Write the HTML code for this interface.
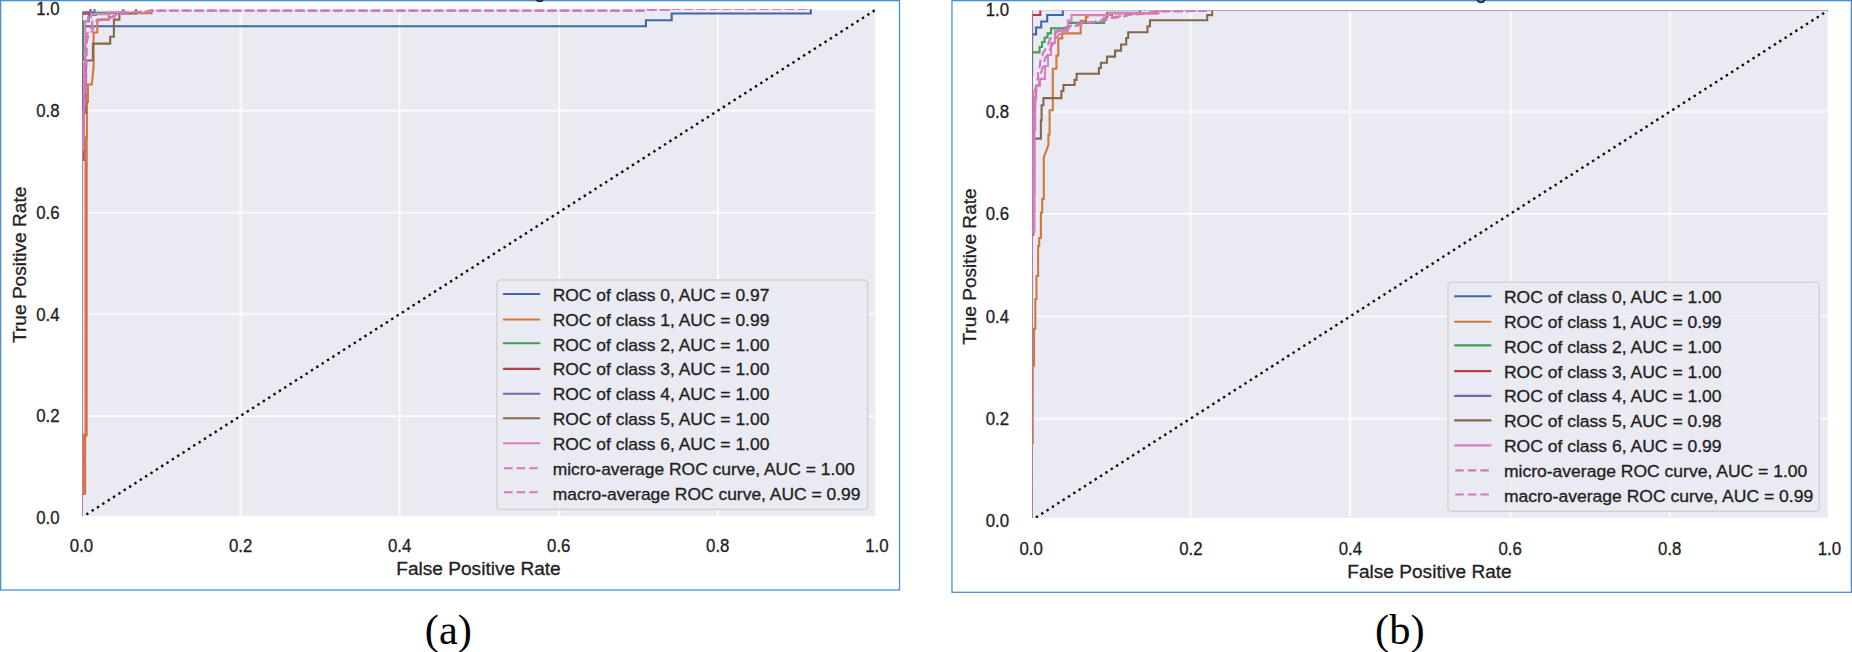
<!DOCTYPE html>
<html><head><meta charset="utf-8"><title>ROC curves</title>
<style>
html,body{margin:0;padding:0;background:#fff;}
body{width:1852px;height:652px;overflow:hidden;}
svg{display:block;}
text{font-family:"Liberation Sans",Arial,Helvetica,sans-serif;fill:#1f1f1f;stroke:#1f1f1f;stroke-width:0.32px;}
.t{font-size:17.5px;}
.l{font-size:19.1px;}
.g{font-size:17.2px;}
.c{font-family:"Liberation Serif","Times New Roman",Times,serif;font-size:41.4px;fill:#000;stroke:none;}
</style></head><body>
<svg width="1852" height="652" viewBox="0 0 1852 652">
<rect width="1852" height="652" fill="#fff"/>
<rect x="0.65" y="0.65" width="898.9000000000001" height="589.35" fill="#fff" stroke="#4b8fd3" stroke-width="1.3"/>
<rect x="82.2" y="9.1" width="793.0999999999999" height="506.9" fill="#eaeaf2"/>
<clipPath id="ca"><rect x="82.2" y="9.1" width="793.0999999999999" height="506.9"/></clipPath>
<g clip-path="url(#ca)" fill="none">
<line x1="240.80" y1="9.1" x2="240.80" y2="516.0" stroke="#fff" stroke-opacity="0.55" stroke-width="3.0"/>
<line x1="399.55" y1="9.1" x2="399.55" y2="516.0" stroke="#fff" stroke-opacity="0.85" stroke-width="1.5"/>
<line x1="399.55" y1="9.1" x2="399.55" y2="516.0" stroke="#fff" stroke-opacity="0.12" stroke-width="3.0"/>
<line x1="559.40" y1="9.1" x2="559.40" y2="516.0" stroke="#fff" stroke-opacity="0.95" stroke-width="1.6"/>
<line x1="717.90" y1="9.1" x2="717.90" y2="516.0" stroke="#fff" stroke-opacity="0.95" stroke-width="1.7"/>
<line x1="82.2" y1="9.00" x2="875.3" y2="9.00" stroke="#fff" stroke-opacity="0.9" stroke-width="1.8"/>
<line x1="82.2" y1="110.70" x2="875.3" y2="110.70" stroke="#fff" stroke-opacity="0.95" stroke-width="1.8"/>
<line x1="82.2" y1="212.55" x2="875.3" y2="212.55" stroke="#fff" stroke-opacity="0.55" stroke-width="2.8"/>
<line x1="82.2" y1="314.15" x2="875.3" y2="314.15" stroke="#fff" stroke-opacity="0.6" stroke-width="2.6"/>
<line x1="82.2" y1="416.05" x2="875.3" y2="416.05" stroke="#fff" stroke-opacity="0.95" stroke-width="1.8"/>
<g>
<polyline points="81.8,517.6 81.8,26.3 645.9,26.3 645.9,20.2 671.7,20.2 671.7,13.5 810.8,13.5 810.8,8.0 876.8,8.0" stroke="#3f66a8" stroke-width="2.1"/>
<polyline points="81.8,517.6 81.8,494.0 84.6,494.0 84.6,435.0 86.1,435.0 86.1,137.4 86.9,137.4 86.9,102.0 88.0,102.0 88.0,84.5 91.8,84.5 93.6,66.9 93.6,32.5 97.3,32.5 97.3,19.6 108.8,19.6 108.8,13.3 151.6,13.3 151.6,8.0 876.8,8.0" stroke="#d4773f" stroke-width="2.1"/>
<polyline points="84.6,494.0 84.6,435.0 86.1,435.0 86.1,137.4" stroke="#d4773f" stroke-width="3.2"/>
<polyline points="81.8,517.6 81.8,60.0 83.0,60.0 83.0,21.5 89.0,21.5 89.0,15.0 96.0,15.0 96.0,12.7 123.0,12.7 123.0,8.0 876.8,8.0" stroke="#429f5a" stroke-width="2.1"/>
<polyline points="81.8,517.6 81.8,13.7 90.5,13.7 90.5,8.0 876.8,8.0" stroke="#ba3d43" stroke-width="2.1"/>
<polyline points="81.8,517.6 81.8,12.2 94.6,12.2 94.6,8.0 876.8,8.0" stroke="#7468ac" stroke-width="2.1"/>
<polyline points="81.8,517.6 81.8,160.0 83.6,160.0 83.6,113.0 85.7,113.0 85.7,60.5 92.9,60.5 92.9,43.6 110.2,43.6 110.2,36.7 113.9,36.7 113.9,19.6 119.4,19.6 119.4,13.5 136.0,13.5 136.0,8.0 876.8,8.0" stroke="#85674c" stroke-width="2.1"/>
<polyline points="81.8,517.6 81.8,150.0 83.1,150.0 83.1,112.0 84.1,112.0 84.1,64.0 85.3,64.0 85.3,21.0 88.0,21.0 88.0,17.5 91.0,17.5 91.0,14.1 108.4,14.1 108.4,12.3 124.0,12.3 124.0,8.0 876.8,8.0" stroke="#d880c0" stroke-width="2.1"/>
<polyline points="81.7,517.6 81.7,130.9 82.5,130.9 82.6,125.4 83.0,120.0 83.3,113.2 83.7,106.4 84.2,98.0 84.4,91.8 84.7,84.3 85.3,41.8 86.0,36.7 86.8,33.7 88.3,32.8 88.8,32.0 89.6,31.5 90.7,30.0 91.4,26.6 92.4,21.7 93.8,21.1 95.1,20.7 106.2,18.9 106.6,18.6 108.0,17.7 111.7,16.8 117.2,14.3 120.8,13.4 121.8,12.8 133.8,12.2 149.4,11.4 149.4,11.4 149.4,10.6 643.7,10.6 643.7,10.6 643.7,9.7 669.5,9.7 669.5,9.7 669.5,8.8 808.6,8.8 808.6,8.8 808.6,8.0 874.6,8.0 874.6,8.0 874.6,8.0" stroke="#d376bb" stroke-width="2.1" stroke-dasharray="8.5 4.1"/>
<polyline points="81.8,517.6 81.8,130.9 83.0,130.9 83.1,125.4 83.6,120.0 84.1,113.2 84.6,106.4 85.3,98.0 85.7,91.8 86.1,84.3 86.9,41.8 88.0,36.7 89.0,33.7 90.5,32.8 91.0,32.0 91.8,31.5 92.9,30.0 93.6,26.6 94.6,21.7 96.0,21.1 97.3,20.7 108.4,18.9 108.8,18.6 110.2,17.7 113.9,16.8 119.4,14.3 123.0,13.4 124.0,12.8 136.0,12.2 151.6,11.4 151.6,11.4 151.6,10.6 645.9,10.6 645.9,10.6 645.9,9.7 671.7,9.7 671.7,9.7 671.7,8.8 810.8,8.8 810.8,8.8 810.8,8.0 876.8,8.0 876.8,8.0 876.8,8.0" stroke="#d376bb" stroke-width="2.1" stroke-dasharray="8.5 4.1" stroke-dashoffset="3.51"/>
<line x1="81.5" y1="517.6" x2="876.8" y2="9.0" stroke="#0a0a0a" stroke-width="2.4" stroke-dasharray="2.4 3.95" stroke-dashoffset="0.65"/>
</g></g>
<text transform="translate(81.5,552.0) scale(0.96,1)" text-anchor="middle" class="t">0.0</text>
<text transform="translate(59.6,523.9) scale(0.96,1)" text-anchor="end" class="t">0.0</text>
<text transform="translate(240.6,552.0) scale(0.96,1)" text-anchor="middle" class="t">0.2</text>
<text transform="translate(59.6,422.2) scale(0.96,1)" text-anchor="end" class="t">0.2</text>
<text transform="translate(399.6,552.0) scale(0.96,1)" text-anchor="middle" class="t">0.4</text>
<text transform="translate(59.6,320.5) scale(0.96,1)" text-anchor="end" class="t">0.4</text>
<text transform="translate(558.7,552.0) scale(0.96,1)" text-anchor="middle" class="t">0.6</text>
<text transform="translate(59.6,218.7) scale(0.96,1)" text-anchor="end" class="t">0.6</text>
<text transform="translate(717.7,552.0) scale(0.96,1)" text-anchor="middle" class="t">0.8</text>
<text transform="translate(59.6,117.0) scale(0.96,1)" text-anchor="end" class="t">0.8</text>
<text transform="translate(876.8,552.0) scale(0.96,1)" text-anchor="middle" class="t">1.0</text>
<text transform="translate(59.6,15.3) scale(0.96,1)" text-anchor="end" class="t">1.0</text>
<text transform="translate(478.5,575.2) scale(1.0,1)" text-anchor="middle" class="l">False Positive Rate</text>
<text transform="translate(25.6,264.8) scale(1.0,1) rotate(-90)" text-anchor="middle" class="l">True Positive Rate</text>
<rect x="496.8" y="280.0" width="370.90000000000003" height="229.3" rx="3.6" fill="#eaeaf2" fill-opacity="0.8" stroke="#cfcfd4" stroke-width="1.3"/>
<line  stroke-linecap="round" x1="503.8" y1="294.0" x2="539.4" y2="294.0" stroke="#3f66a8" stroke-width="2.1"/>
<text transform="translate(552.7,300.7) scale(1.015,1)" text-anchor="start" class="g">ROC of class 0, AUC = 0.97</text>
<line  stroke-linecap="round" x1="503.8" y1="319.5" x2="539.4" y2="319.5" stroke="#d4773f" stroke-width="2.1"/>
<text transform="translate(552.7,325.6) scale(1.015,1)" text-anchor="start" class="g">ROC of class 1, AUC = 0.99</text>
<line  stroke-linecap="round" x1="503.8" y1="343.2" x2="539.4" y2="343.2" stroke="#429f5a" stroke-width="2.1"/>
<text transform="translate(552.7,350.5) scale(1.015,1)" text-anchor="start" class="g">ROC of class 2, AUC = 1.00</text>
<line  stroke-linecap="round" x1="503.8" y1="368.9" x2="539.4" y2="368.9" stroke="#ba3d43" stroke-width="2.1"/>
<text transform="translate(552.7,375.3) scale(1.015,1)" text-anchor="start" class="g">ROC of class 3, AUC = 1.00</text>
<line  stroke-linecap="round" x1="503.8" y1="393.7" x2="539.4" y2="393.7" stroke="#7468ac" stroke-width="2.1"/>
<text transform="translate(552.7,400.2) scale(1.015,1)" text-anchor="start" class="g">ROC of class 4, AUC = 1.00</text>
<line  stroke-linecap="round" x1="503.8" y1="418.2" x2="539.4" y2="418.2" stroke="#85674c" stroke-width="2.1"/>
<text transform="translate(552.7,425.1) scale(1.015,1)" text-anchor="start" class="g">ROC of class 5, AUC = 1.00</text>
<line  stroke-linecap="round" x1="503.8" y1="443.2" x2="539.4" y2="443.2" stroke="#d880c0" stroke-width="2.1"/>
<text transform="translate(552.7,450.0) scale(1.015,1)" text-anchor="start" class="g">ROC of class 6, AUC = 1.00</text>
<line x1="504.0" y1="468.2" x2="538.2" y2="468.2" stroke="#d376bb" stroke-width="2.1" stroke-dasharray="8.5 4.1"/>
<text transform="translate(552.7,474.9) scale(1.015,1)" text-anchor="start" class="g">micro-average ROC curve, AUC = 1.00</text>
<line x1="504.0" y1="492.3" x2="538.2" y2="492.3" stroke="#d376bb" stroke-width="2.1" stroke-dasharray="8.5 4.1"/>
<text transform="translate(552.7,499.7) scale(1.015,1)" text-anchor="start" class="g">macro-average ROC curve, AUC = 0.99</text>
<text x="539.8" y="-2.3" text-anchor="middle" class="l">g</text>
<text transform="translate(448.4,644) scale(1.025,1)" text-anchor="middle" class="c">(a)</text>
<rect x="951.9499999999999" y="0.65" width="899.4000000000001" height="591.6500000000001" fill="#fff" stroke="#4b8fd3" stroke-width="1.3"/>
<rect x="1032.4" y="10.4" width="795.3" height="507.6" fill="#eaeaf2"/>
<clipPath id="cb"><rect x="1032.4" y="10.4" width="795.3" height="507.6"/></clipPath>
<g clip-path="url(#cb)" fill="none">
<line x1="1190.65" y1="10.4" x2="1190.65" y2="518.0" stroke="#fff" stroke-opacity="0.55" stroke-width="2.9"/>
<line x1="1349.57" y1="10.4" x2="1349.57" y2="518.0" stroke="#fff" stroke-opacity="0.93" stroke-width="1.5"/>
<line x1="1351.20" y1="10.4" x2="1351.20" y2="518.0" stroke="#fff" stroke-opacity="0.3" stroke-width="2.2"/>
<line x1="1510.90" y1="10.4" x2="1510.90" y2="518.0" stroke="#fff" stroke-opacity="0.65" stroke-width="2.6"/>
<line x1="1669.95" y1="10.4" x2="1669.95" y2="518.0" stroke="#fff" stroke-opacity="0.58" stroke-width="2.6"/>
<line x1="1032.4" y1="111.76" x2="1827.7" y2="111.76" stroke="#fff" stroke-opacity="0.5" stroke-width="2.8"/>
<line x1="1032.4" y1="213.96" x2="1827.7" y2="213.96" stroke="#fff" stroke-opacity="0.95" stroke-width="1.8"/>
<line x1="1032.4" y1="316.36" x2="1827.7" y2="316.36" stroke="#fff" stroke-opacity="0.9" stroke-width="1.4"/>
<line x1="1032.4" y1="316.36" x2="1827.7" y2="316.36" stroke="#fff" stroke-opacity="0.15" stroke-width="3.0"/>
<line x1="1032.4" y1="418.55" x2="1827.7" y2="418.55" stroke="#fff" stroke-opacity="0.55" stroke-width="2.8"/>
<g>
<polyline points="1031.6,520.6 1031.6,75.0 1032.0,75.0 1032.0,34.4 1036.1,34.4 1036.1,27.5 1041.2,27.5 1041.2,21.5 1047.2,21.5 1047.2,15.0 1062.8,15.0 1062.8,9.3 1829.4,9.3" stroke="#3f66a8" stroke-width="2.1"/>
<polyline points="1031.6,520.6 1031.6,443.0 1032.7,443.0 1032.7,365.6 1034.0,365.6 1034.0,328.9 1035.3,328.9 1035.3,299.0 1036.5,299.0 1036.5,276.0 1038.1,276.0 1038.1,246.0 1039.2,246.0 1039.2,238.0 1040.9,238.0 1040.9,212.6 1042.2,212.6 1042.2,198.9 1043.8,198.9 1043.8,157.5 1048.4,145.0 1048.4,134.5 1049.6,134.5 1049.6,110.3 1052.8,110.3 1052.8,68.8 1056.4,68.8 1056.4,55.6 1058.3,55.6 1058.3,38.4 1062.2,38.4 1062.2,33.4 1080.7,33.4 1080.7,20.9 1086.0,20.9 1086.0,17.0 1087.5,17.0 1087.5,15.2 1112.0,15.2 1112.0,13.4 1157.4,13.4 1157.4,9.3 1829.4,9.3" stroke="#d4773f" stroke-width="2.1"/>
<polyline points="1031.6,520.6 1031.6,75.0 1032.0,75.0 1032.0,52.4 1039.6,52.4 1039.6,47.0 1042.0,47.0 1042.0,42.0 1044.6,42.0 1044.6,37.5 1047.5,37.5 1047.5,33.4 1051.0,33.4 1051.0,28.4 1068.3,28.4 1068.3,22.9 1104.2,22.9 1104.2,17.8 1107.0,17.8 1107.0,12.8 1140.0,12.8 1140.0,9.3 1829.4,9.3" stroke="#429f5a" stroke-width="2.1"/>
<polyline points="1031.6,520.6 1031.6,75.0 1032.0,75.0 1032.0,15.0 1040.3,15.0 1040.3,9.3 1829.4,9.3" stroke="#ba3d43" stroke-width="2.1"/>
<polyline points="1031.6,520.6 1031.6,75.0 1032.0,75.0 1032.0,9.3 1829.4,9.3" stroke="#7468ac" stroke-width="2.1"/>
<polyline points="1031.6,520.6 1031.6,235.0 1033.2,235.0 1033.2,195.0 1034.4,195.0 1034.4,138.6 1040.9,138.6 1040.9,120.4 1041.6,120.4 1041.6,105.2 1043.4,105.2 1043.4,98.1 1061.4,98.1 1061.4,91.0 1063.4,91.0 1063.4,85.0 1074.6,85.0 1074.6,79.9 1076.6,79.9 1076.6,73.8 1098.9,73.8 1098.9,68.0 1100.9,68.0 1100.9,62.7 1107.0,62.7 1107.0,56.6 1115.1,56.6 1115.1,50.6 1121.1,50.6 1121.1,44.5 1126.2,44.5 1126.2,38.0 1128.2,38.0 1128.2,32.3 1147.5,32.3 1147.5,26.3 1150.0,26.3 1150.0,20.2 1207.2,20.2 1207.2,15.1 1212.2,15.1 1212.2,9.3 1829.4,9.3" stroke="#85674c" stroke-width="2.1"/>
<polyline points="1031.6,520.6 1031.6,232.0 1034.5,232.0 1034.5,130.0 1035.2,130.0 1035.2,100.0 1036.2,100.0 1036.2,86.0 1040.0,86.0 1040.0,78.9 1045.0,78.9 1045.0,66.0 1048.0,66.0 1048.0,55.0 1051.0,55.0 1051.0,43.0 1055.0,43.0 1055.0,31.1 1067.9,31.1 1067.9,20.6 1071.5,20.6 1071.5,15.0 1108.8,15.0 1108.8,13.1 1158.6,13.1 1158.6,9.3 1829.4,9.3" stroke="#d880c0" stroke-width="2.1"/>
<polyline points="1033.3,232.0 1033.3,92.0" stroke="#d880c0" stroke-width="2.0"/>
<polyline points="1213.0,10.8 1829.4,10.8" stroke="#e9b9dc" stroke-width="0.7"/>
<polyline points="1031.4,520.6 1031.5,172.9 1031.8,172.9 1032.2,145.9 1032.6,134.8 1033.1,129.1 1033.4,123.9 1033.5,115.8 1034.0,101.2 1034.0,96.9 1034.6,92.7 1034.7,91.7 1034.9,89.7 1036.0,86.4 1036.8,82.1 1037.0,81.0 1037.3,80.2 1037.5,79.2 1038.0,78.4 1038.2,72.1 1038.4,71.3 1038.7,69.1 1038.9,68.4 1039.7,66.4 1040.0,65.4 1040.5,59.2 1040.8,58.4 1042.4,55.7 1042.6,54.7 1043.0,53.9 1043.4,52.2 1044.6,50.7 1046.0,47.2 1047.8,44.8 1050.0,38.8 1051.4,37.1 1053.3,35.3 1056.4,32.8 1057.2,31.8 1057.8,31.1 1058.4,30.3 1062.9,29.4 1063.3,27.9 1066.5,27.1 1069.6,26.3 1071.6,25.6 1075.7,24.7 1081.0,22.9 1082.5,22.4 1093.9,22.1 1095.9,21.3 1099.2,20.5 1102.0,19.8 1103.8,18.2 1107.0,17.9 1110.1,17.7 1116.1,16.8 1121.2,16.0 1123.2,15.0 1135.0,14.2 1142.5,13.7 1145.0,12.9 1152.4,12.0 1153.6,11.4 1202.2,10.9 1202.2,10.9 1202.2,10.1 1207.2,10.1 1207.2,10.1 1207.2,9.3 1824.4,9.3 1824.4,9.3 1824.4,9.3" stroke="#d376bb" stroke-width="2.1" stroke-dasharray="8.5 4.1"/>
<polyline points="1031.6,520.6 1031.6,172.9 1032.0,172.9 1032.7,145.9 1033.2,134.8 1034.0,129.1 1034.4,123.9 1034.5,115.8 1035.2,101.2 1035.3,96.9 1036.1,92.7 1036.2,91.7 1036.5,89.7 1038.1,86.4 1039.2,82.1 1039.6,81.0 1040.0,80.2 1040.3,79.2 1040.9,78.4 1041.2,72.1 1041.6,71.3 1042.0,69.1 1042.2,68.4 1043.4,66.4 1043.8,65.4 1044.6,59.2 1045.0,58.4 1047.2,55.7 1047.5,54.7 1048.0,53.9 1048.4,52.2 1049.6,50.7 1051.0,47.2 1052.8,44.8 1055.0,38.8 1056.4,37.1 1058.3,35.3 1061.4,32.8 1062.2,31.8 1062.8,31.1 1063.4,30.3 1067.9,29.4 1068.3,27.9 1071.5,27.1 1074.6,26.3 1076.6,25.6 1080.7,24.7 1086.0,22.9 1087.5,22.4 1098.9,22.1 1100.9,21.3 1104.2,20.5 1107.0,19.8 1108.8,18.2 1112.0,17.9 1115.1,17.7 1121.1,16.8 1126.2,16.0 1128.2,15.0 1140.0,14.2 1147.5,13.7 1150.0,12.9 1157.4,12.0 1158.6,11.4 1207.2,10.9 1207.2,10.9 1207.2,10.1 1212.2,10.1 1212.2,10.1 1212.2,9.3 1829.4,9.3 1829.4,9.3 1829.4,9.3" stroke="#d376bb" stroke-width="2.1" stroke-dasharray="8.5 4.1" stroke-dashoffset="5.36"/>
<line x1="1031.1" y1="520.6" x2="1829.4" y2="9.6" stroke="#0a0a0a" stroke-width="2.4" stroke-dasharray="2.4 3.95" stroke-dashoffset="0.65"/>
</g></g>
<text transform="translate(1031.1,554.9) scale(0.96,1)" text-anchor="middle" class="t">0.0</text>
<text transform="translate(1009.1,526.9) scale(0.96,1)" text-anchor="end" class="t">0.0</text>
<text transform="translate(1190.8,554.9) scale(0.96,1)" text-anchor="middle" class="t">0.2</text>
<text transform="translate(1009.1,424.7) scale(0.96,1)" text-anchor="end" class="t">0.2</text>
<text transform="translate(1350.4,554.9) scale(0.96,1)" text-anchor="middle" class="t">0.4</text>
<text transform="translate(1009.1,322.5) scale(0.96,1)" text-anchor="end" class="t">0.4</text>
<text transform="translate(1510.1,554.9) scale(0.96,1)" text-anchor="middle" class="t">0.6</text>
<text transform="translate(1009.1,220.3) scale(0.96,1)" text-anchor="end" class="t">0.6</text>
<text transform="translate(1669.7,554.9) scale(0.96,1)" text-anchor="middle" class="t">0.8</text>
<text transform="translate(1009.1,118.1) scale(0.96,1)" text-anchor="end" class="t">0.8</text>
<text transform="translate(1829.4,554.9) scale(0.96,1)" text-anchor="middle" class="t">1.0</text>
<text transform="translate(1009.1,15.9) scale(0.96,1)" text-anchor="end" class="t">1.0</text>
<text transform="translate(1429.5,578.0) scale(1.0,1)" text-anchor="middle" class="l">False Positive Rate</text>
<text transform="translate(975.8,266.5) scale(1.0,1) rotate(-90)" text-anchor="middle" class="l">True Positive Rate</text>
<rect x="1448.0" y="282.2" width="371.29999999999995" height="229.10000000000002" rx="3.6" fill="#eaeaf2" fill-opacity="0.8" stroke="#cfcfd4" stroke-width="1.3"/>
<line  stroke-linecap="round" x1="1455.0" y1="296.2" x2="1490.6" y2="296.2" stroke="#3f66a8" stroke-width="2.1"/>
<text transform="translate(1503.9,302.9) scale(1.0195,1)" text-anchor="start" class="g">ROC of class 0, AUC = 1.00</text>
<line  stroke-linecap="round" x1="1455.0" y1="321.7" x2="1490.6" y2="321.7" stroke="#d4773f" stroke-width="2.1"/>
<text transform="translate(1503.9,327.8) scale(1.0195,1)" text-anchor="start" class="g">ROC of class 1, AUC = 0.99</text>
<line  stroke-linecap="round" x1="1455.0" y1="345.4" x2="1490.6" y2="345.4" stroke="#429f5a" stroke-width="2.1"/>
<text transform="translate(1503.9,352.7) scale(1.0195,1)" text-anchor="start" class="g">ROC of class 2, AUC = 1.00</text>
<line  stroke-linecap="round" x1="1455.0" y1="371.1" x2="1490.6" y2="371.1" stroke="#ba3d43" stroke-width="2.1"/>
<text transform="translate(1503.9,377.5) scale(1.0195,1)" text-anchor="start" class="g">ROC of class 3, AUC = 1.00</text>
<line  stroke-linecap="round" x1="1455.0" y1="395.9" x2="1490.6" y2="395.9" stroke="#7468ac" stroke-width="2.1"/>
<text transform="translate(1503.9,402.4) scale(1.0195,1)" text-anchor="start" class="g">ROC of class 4, AUC = 1.00</text>
<line  stroke-linecap="round" x1="1455.0" y1="420.4" x2="1490.6" y2="420.4" stroke="#85674c" stroke-width="2.1"/>
<text transform="translate(1503.9,427.3) scale(1.0195,1)" text-anchor="start" class="g">ROC of class 5, AUC = 0.98</text>
<line  stroke-linecap="round" x1="1455.0" y1="445.4" x2="1490.6" y2="445.4" stroke="#d880c0" stroke-width="2.1"/>
<text transform="translate(1503.9,452.2) scale(1.0195,1)" text-anchor="start" class="g">ROC of class 6, AUC = 0.99</text>
<line x1="1455.2" y1="470.4" x2="1489.4" y2="470.4" stroke="#d376bb" stroke-width="2.1" stroke-dasharray="8.5 4.1"/>
<text transform="translate(1503.9,477.1) scale(1.0195,1)" text-anchor="start" class="g">micro-average ROC curve, AUC = 1.00</text>
<line x1="1455.2" y1="494.5" x2="1489.4" y2="494.5" stroke="#d376bb" stroke-width="2.1" stroke-dasharray="8.5 4.1"/>
<text transform="translate(1503.9,501.9) scale(1.0195,1)" text-anchor="start" class="g">macro-average ROC curve, AUC = 0.99</text>
<text x="1481.0" y="-1.0" text-anchor="middle" class="l">g</text>
<text transform="translate(1399.8,644) scale(1.025,1)" text-anchor="middle" class="c">(b)</text>
</svg>
</body></html>
